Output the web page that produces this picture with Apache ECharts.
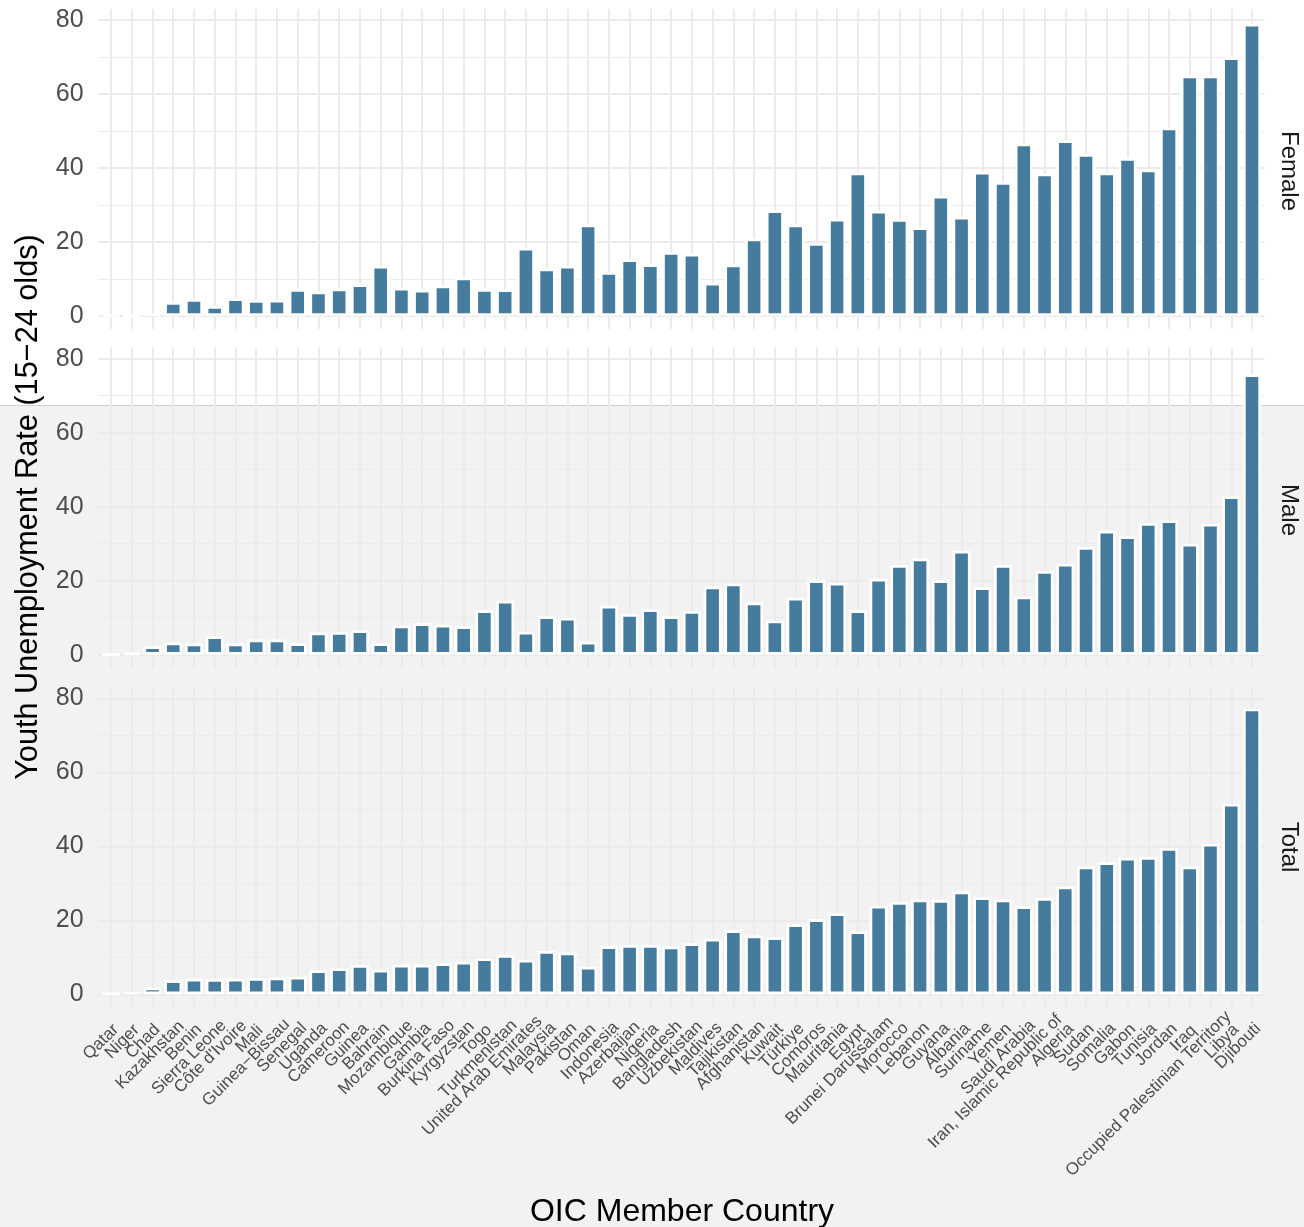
<!DOCTYPE html>
<html>
<head>
<meta charset="utf-8">
<title>Youth Unemployment Rate - OIC</title>
<script src="https://cdn.jsdelivr.net/npm/echarts@6/dist/echarts.min.js"></script>
<style>
  html, body { margin: 0; padding: 0; }
  /* page is white on top, light grey below, with a thin line between */
  #main {
    width: 1304px;
    height: 1227px;
    background: linear-gradient(to bottom, #ffffff 0, #ffffff 405px, #cfcfcf 405px, #cfcfcf 406px, #f2f2f2 406px);
  }
</style>
</head>
<body>
<div id="main"></div>
<script>
var countries = [
  'Qatar', 'Niger', 'Chad', 'Kazakhstan', 'Benin', 'Sierra Leone', "Côte d'Ivoire", 'Mali',
  'Guinea\u2212Bissau', 'Senegal', 'Uganda', 'Cameroon', 'Guinea', 'Bahrain', 'Mozambique', 'Gambia',
  'Burkina Faso', 'Kyrgyzstan', 'Togo', 'Turkmenistan', 'United Arab Emirates', 'Malaysia', 'Pakistan', 'Oman',
  'Indonesia', 'Azerbaijan', 'Nigeria', 'Bangladesh', 'Uzbekistan', 'Maldives', 'Tajikistan', 'Afghanistan',
  'Kuwait', 'Türkiye', 'Comoros', 'Mauritania', 'Egypt', 'Brunei Darussalam', 'Morocco', 'Lebanon',
  'Guyana', 'Albania', 'Suriname', 'Yemen', 'Saudi Arabia', 'Iran, Islamic Republic of', 'Algeria', 'Sudan',
  'Somalia', 'Gabon', 'Tunisia', 'Jordan', 'Iraq', 'Occupied Palestinian Territory', 'Libya', 'Djibouti'
];

var female = [
  0.3, 0, 0.6, 3.8, 4.6, 2.7, 4.8, 4.3,
  4.4, 7.3, 6.6, 7.4, 8.6, 13.6, 7.6, 7.1,
  8.2, 10.4, 7.3, 7.2, 18.4, 12.8, 13.6, 24.7,
  11.9, 15.3, 14.0, 17.3, 16.8, 9.0, 13.9, 20.9,
  28.6, 24.7, 19.7, 26.3, 38.8, 28.4, 26.2, 24.0,
  32.5, 26.8, 39.0, 36.2, 46.6, 38.5, 47.5, 43.8,
  38.8, 42.7, 39.6, 50.9, 65.0, 65.0, 69.9, 79.0
];

var male = [
  0, 0.5, 2.3, 3.3, 3.0, 5.0, 3.0, 4.1,
  4.1, 3.1, 6.0, 6.1, 6.6, 3.1, 7.9, 8.5,
  8.1, 7.7, 12.0, 14.6, 6.2, 10.4, 10.0, 3.5,
  13.2, 11.0, 12.3, 10.4, 11.8, 18.4, 19.2, 14.1,
  9.2, 15.4, 20.1, 19.4, 12.0, 20.5, 24.2, 26.0,
  20.1, 28.1, 18.2, 24.2, 15.7, 22.6, 24.6, 29.1,
  33.5, 32.0, 35.6, 36.3, 30.0, 35.4, 42.8, 75.8
];

var total = [
  0.2, 0.6, 1.8, 3.8, 4.2, 4.1, 4.2, 4.4,
  4.5, 4.7, 6.5, 7.0, 7.9, 6.6, 8.0, 8.0,
  8.4, 8.8, 9.7, 10.6, 9.3, 11.7, 11.3, 7.4,
  13.0, 13.3, 13.3, 12.9, 13.8, 15.0, 17.3, 15.9,
  15.4, 18.9, 20.3, 21.9, 17.0, 23.9, 24.9, 25.6,
  25.5, 27.8, 26.2, 25.6, 23.8, 26.0, 29.1, 34.5,
  35.7, 36.9, 37.1, 39.5, 34.5, 40.7, 51.5, 77.2
];

var panelNames = ['Female', 'Male', 'Total'];
var panelData = [female, male, total];

var FONT = 'Liberation Sans';
var BAR = '#457b9d';
var GRID_COLOR = '#ebebeb';
var NONE = 'rgba(0,0,0,0)';

// pixel position of each facet's 0 line
var zeroLine = [316, 654.7, 994.3];
var yMax = 83;
var unitPx = 3.7;
var panelH = yMax * unitPx;
var firstCenter = 111, lastCenter = 1252;
var step = (lastCenter - firstCenter) / (countries.length - 1);

// grid line colours per tick (the last tick is the panel top, not drawn)
function lineColors(n) {
  var c = [];
  for (var i = 0; i < n; i++) c.push(GRID_COLOR);
  c.push(NONE);
  return c;
}

// country labels: ggplot-like justification (point at 90% of the text sits under the tick)
var LABEL_SIZE = 17;
var measure = document.createElement('canvas').getContext('2d');
measure.font = LABEL_SIZE + 'px "' + FONT + '"';
var labelW = countries.map(function(c) { return measure.measureText(c).width; });
var K = Math.ceil(0.9 * Math.max.apply(null, labelW)) + 4;
var rich = {};
countries.forEach(function(c, i) {
  rich['c' + i] = {
    fontSize: LABEL_SIZE, fontFamily: FONT, color: '#4d4d4d',
    padding: [0, 0, 0, Math.max(0, K - 0.9 * labelW[i])]
  };
});

function makeGrid(left, width, top, height) {
  return { left: left, width: width, top: top, height: height, outerBoundsMode: 'none', containLabel: false };
}

function buildOption(fancyLabels) {
  var grids = [], xAxes = [], yAxes = [], series = [], texts = [];

  for (var p = 0; p < 3; p++) {
    var top = zeroLine[p] - panelH;

    // horizontal grid lines + y labels
    var gC = grids.length;
    grids.push(makeGrid(firstCenter - 0.6 * step, 56.2 * step, top, panelH));
    xAxes.push({ type: 'value', gridIndex: gC, show: false, min: 0, max: 1 });
    yAxes.push({
      type: 'value', gridIndex: gC, min: 0, max: yMax, interval: 10,
      axisLine: { show: false }, axisTick: { show: false }, axisLabel: { show: false },
      splitLine: { show: true, lineStyle: { color: lineColors(9), width: 1 } }
    });
    yAxes.push({
      type: 'value', gridIndex: gC, min: 0, max: yMax, interval: 20, position: 'left',
      axisLine: { show: false }, axisTick: { show: false },
      axisLabel: {
        fontSize: 25, color: '#4d4d4d', fontFamily: FONT, margin: 15,
        formatter: function(v) { return v % 20 === 0 ? String(v) : ''; }
      },
      splitLine: { show: true, lineStyle: { color: lineColors(5), width: 2 } }
    });

    // vertical grid lines at each country + small ticks under the panel
    var gB = grids.length;
    grids.push(makeGrid(firstCenter, lastCenter - firstCenter, top, panelH + 1));
    xAxes.push({
      type: 'category', gridIndex: gB, data: countries, boundaryGap: false,
      axisLine: { show: false }, axisLabel: { show: false },
      axisTick: { show: true, interval: 0, length: 12, lineStyle: { color: GRID_COLOR, width: 2 } },
      splitLine: { show: true, interval: 0, lineStyle: { color: GRID_COLOR, width: 2 } }
    });
    yAxes.push({ type: 'value', gridIndex: gB, show: false, min: 0, max: 1 });

    // the bars
    var gA = grids.length;
    grids.push(makeGrid(firstCenter - step / 2, 56 * step, top, panelH));
    xAxes.push({ type: 'category', gridIndex: gA, data: countries, show: false });
    yAxes.push({ type: 'value', gridIndex: gA, show: false, min: 0, max: yMax });
    series.push({
      type: 'bar',
      name: panelNames[p],
      xAxisIndex: xAxes.length - 1,
      yAxisIndex: yAxes.length - 1,
      data: panelData[p],
      barWidth: 18,
      silent: true,
      itemStyle: { color: BAR, borderColor: '#ffffff', borderWidth: 2.7 }
    });

    // facet strip label on the right
    texts.push({
      type: 'text', x: 1288.5, y: [171, 510, 847][p], rotation: -Math.PI / 2,
      style: { text: panelNames[p], fontSize: 24, fontFamily: FONT, fill: '#1a1a1a', align: 'center', verticalAlign: 'middle' }
    });
  }

  // country labels under the bottom facet
  var gD = grids.length;
  if (fancyLabels) {
    grids.push(makeGrid(firstCenter + 2 - 0.7071 * K, lastCenter - firstCenter, zeroLine[2] - panelH, panelH));
    xAxes.push({
      type: 'category', gridIndex: gD, data: countries, boundaryGap: false,
      axisLine: { show: false }, axisTick: { show: false }, splitLine: { show: false },
      axisLabel: {
        interval: 0, rotate: 45, align: 'left', verticalAlign: 'middle',
        margin: 1030 + 0.7071 * K - zeroLine[2],
        formatter: function(v, i) { return '{c' + i + '|' + v + '}'; },
        rich: rich
      }
    });
  } else {
    grids.push(makeGrid(firstCenter + 5, lastCenter - firstCenter, zeroLine[2] - panelH, panelH));
    xAxes.push({
      type: 'category', gridIndex: gD, data: countries, boundaryGap: false,
      axisLine: { show: false }, axisTick: { show: false }, splitLine: { show: false },
      axisLabel: { interval: 0, rotate: 45, margin: 32, fontSize: LABEL_SIZE, color: '#4d4d4d', fontFamily: FONT }
    });
  }
  yAxes.push({ type: 'value', gridIndex: gD, show: false, min: 0, max: 1 });

  // axis titles
  texts.push({
    type: 'text', x: 28.5, y: 507, rotation: Math.PI / 2,
    style: { text: 'Youth Unemployment Rate (15\u221224 olds)', fontSize: 30.7, fontFamily: FONT, fill: '#000000', align: 'center', verticalAlign: 'middle' }
  });
  texts.push({
    type: 'text', x: 682, y: 1212,
    style: { text: 'OIC Member Country', fontSize: 32, fontFamily: FONT, fill: '#000000', align: 'center', verticalAlign: 'middle' }
  });

  return {
    animation: false,
    grid: grids,
    xAxis: xAxes,
    yAxis: yAxes,
    series: series,
    graphic: texts
  };
}

var chart = echarts.init(document.getElementById('main'), null, { renderer: 'canvas' });
try {
  chart.setOption(buildOption(true));
} catch (e) {
  console.log('falling back to plain labels: ' + e.message);
  chart.clear();
  chart.setOption(buildOption(false), true);
}
</script>
</body>
</html>
